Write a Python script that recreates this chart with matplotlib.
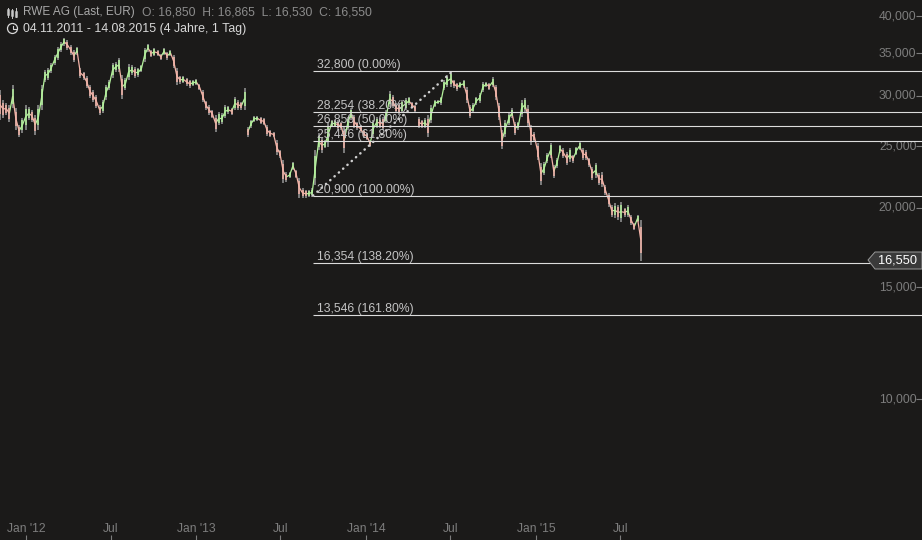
import numpy as np
import pandas as pd
import matplotlib
matplotlib.use('Agg')
import matplotlib.pyplot as plt
import matplotlib.dates as mdates
from matplotlib.collections import LineCollection
from matplotlib.lines import Line2D
from matplotlib.patches import Circle, Polygon

plt.rcParams['font.family'] = ['Liberation Sans', 'DejaVu Sans']

# price ranges, about one bar per week
high = [30640, 29550, 29230, 29020, 31200, 28710, 26990, 27680, 29020, 28810,
        28500, 27990, 29020, 31200, 32940, 33180, 33790, 34780, 35800, 36460,
        36990, 36720, 36060, 35420, 35800, 33180, 32700, 32230, 31200, 30640,
        30090, 29020, 29550, 31200, 31770, 33790, 33910, 34400, 32350, 32000,
        33660, 33540, 33300, 33180, 33540, 35670, 36190, 35420, 35670, 35420,
        34910, 35670, 35160, 35420, 34780, 33180, 32230, 32230, 32000, 31770,
        31770, 31880, 31310, 30640, 29440, 29020, 28500, 27990, 28290, 28190,
        29020, 28910, 28710, 29870, 29550, 29340, 30860, 26800, 27480, 27890,
        27890, 27780, 27680, 26990, 26510, 26310, 25560, 24650, 23780, 22760,
        22760, 23600, 22930, 22270, 21480, 21330, 21330, 21480, 24650, 26220,
        25750, 25560, 27290, 27480, 27480, 27480, 27290, 26800, 27780, 28710,
        27990, 27290, 26990, 26510, 26220, 25560, 27480, 27780, 27680, 27780,
        28500, 30530, 30090, 29230, 29230, 29550, 29760, 29870, 29340, 29020,
        27780, 27480, 27680, 27990, 29020, 29550, 29550, 29870, 31770, 32350,
        32820, 31770, 31430, 31540, 31770, 30970, 29020, 29230, 29870, 30310,
        31540, 31540, 31430, 32120, 31200, 29230, 26510, 27480, 28190, 28710,
        27290, 27290, 29550, 29760, 29020, 26990, 26310, 25290, 23520, 23600,
        24390, 25290, 23350, 23950, 25100, 24830, 24480, 24830, 24210, 24920,
        25380, 24830, 24650, 23950, 23180, 23520, 22680, 22760, 21720, 21100,
        20200, 20340, 20200, 20420, 19980, 20200, 19480, 18920, 19480, 19130]
low = [27480, 27680, 27990, 27290, 28710, 26510, 25840, 26220, 26510, 27480,
       27290, 26030, 26510, 28500, 31540, 31770, 32580, 33540, 34160, 35160,
       35930, 35420, 34780, 33910, 34780, 32000, 31770, 30860, 29760, 29340,
       28710, 27990, 28190, 29550, 30640, 32000, 32700, 32700, 29660, 30640,
       31770, 32350, 32000, 32120, 32700, 33910, 35160, 34530, 34650, 34650,
       34160, 34780, 34160, 34650, 33180, 31200, 31310, 31430, 31090, 30860,
       31090, 31200, 30640, 29340, 28500, 27990, 27680, 26310, 26990, 27090,
       27680, 28090, 27990, 28500, 28500, 28500, 28500, 25840, 26700, 27290,
       27380, 27090, 26990, 25940, 25840, 25840, 24210, 23950, 21870, 21950,
       22270, 22930, 22270, 20720, 20720, 20720, 20790, 20790, 21720, 24650,
       24390, 24830, 24920, 26800, 26800, 26510, 26510, 24390, 26510, 27480,
       26700, 26510, 26220, 25750, 25560, 24920, 25840, 26700, 26700, 26510,
       27190, 28810, 28710, 28190, 27990, 28190, 28500, 29020, 28710, 28290,
       26700, 26700, 26700, 25840, 27190, 28810, 29120, 29020, 30640, 30970,
       30970, 30860, 30530, 30860, 30860, 29230, 27680, 28190, 29020, 29230,
       30420, 30970, 30640, 30970, 29550, 27480, 24740, 25840, 26990, 27680,
       26030, 26510, 27780, 28290, 26800, 25100, 25380, 23780, 21720, 22520,
       23520, 23950, 22270, 23100, 24390, 23950, 23350, 23600, 23520, 24210,
       24650, 23780, 23780, 23180, 22110, 22270, 21720, 21560, 20940, 20050,
       19340, 19270, 19130, 18990, 19340, 19340, 18780, 18440, 18990, 16500]
price_gaps = [76, 129]  # no connection after these bars

first_bar = '2011-11-06'
last_bar = '2015-08-14'
last_price = 16550

fib_levels = [32800, 28254, 26850, 25446, 20900, 16354, 13546]
fib_pcts = ['0.00%', '38.20%', '50.00%', '61.80%', '100.00%', '138.20%', '161.80%']
fib_start = '2013-09-09'
trend_dates = ['2013-09-09', '2014-07-06']
trend_prices = [20900, 32800]

y_ticks = [40000, 35000, 30000, 25000, 20000, 15000, 10000]
x_ticks = ['2012-01-02', '2012-07-02', '2013-01-01', '2013-07-01',
           '2014-01-01', '2014-07-01', '2015-01-01', '2015-07-01']
x_labels = ["Jan '12", 'Jul', "Jan '13", 'Jul', "Jan '14", 'Jul', "Jan '15", 'Jul']

BG = '#1b1a19'
GREEN = '#b4f29c'
PINK = '#f4b4a8'
GREY = '#7d7d7d'
W, H = 922, 540

fig = plt.figure(figsize=(W / 100, H / 100), dpi=100, facecolor=BG)
ax = fig.add_axes([0, 0, 1, 1], facecolor=BG)
ax.set_yscale('log')
ax.set_ylim(6002, 42430)
x0 = mdates.date2num(pd.Timestamp('2012-01-02')) - 26.3 / 0.4655
ax.set_xlim(x0, x0 + W / 0.4655)
for s in ax.spines.values():
    s.set_visible(False)

high = np.array(high, float)
low = np.array(low, float)
dates = mdates.date2num(pd.date_range(first_bar, last_bar, periods=len(high)))
mid = (high + low) / 2

# price: grey wicks, coloured path between the bars
ax.vlines(dates, low, high, color=GREY, lw=1.4, zorder=2)
segs, cols = [], []
for i in range(1, len(mid)):
    if i - 1 in price_gaps:
        continue
    segs.append([(dates[i - 1], mid[i - 1]), (dates[i], mid[i])])
    cols.append(GREEN if mid[i] >= mid[i - 1] else PINK)
ax.add_collection(LineCollection(segs, colors=cols, linewidths=0.9, zorder=3))
bar_cols = [GREEN if i and mid[i] >= mid[i - 1] else PINK for i in range(len(mid))]
ax.vlines(dates, low + (mid - low) * 0.35, high - (high - mid) * 0.35,
          colors=bar_cols, lw=1.1, zorder=3)

# fibonacci levels
start = mdates.date2num(pd.Timestamp(fib_start))
for level, pct in zip(fib_levels, fib_pcts):
    ax.hlines(level, start, ax.get_xlim()[1], color='#dcdcdc', lw=0.8, zorder=4)
    ax.annotate(f'{level:,} ({pct})', xy=(start, level), xytext=(3, 0),
                textcoords='offset points', color='#c4c4c4', fontsize=8.7,
                va='bottom', ha='left', zorder=5)
ax.plot(mdates.date2num(pd.to_datetime(trend_dates)), trend_prices, color='#cfcfcf',
        lw=1.8, ls=(0, (0.1, 2.2)), dash_capstyle='round', zorder=4)

# axes sit inside the picture
ax.yaxis.tick_right()
ax.set_yticks(y_ticks)
ax.set_yticklabels([f'{v:,}' for v in y_ticks])
ax.minorticks_off()
ax.tick_params(axis='y', direction='in', length=4, width=0.8, color=GREY, pad=-4,
               labelcolor=GREY, labelsize=8.7)
for t in ax.get_yticklabels():
    t.set_ha('right')
    t.set_va('center')
ax.set_xticks(mdates.date2num(pd.to_datetime(x_ticks)))
ax.set_xticklabels(x_labels)
ax.tick_params(axis='x', direction='in', length=3.5, width=0.8, color=GREY, pad=-12.5,
               labelcolor=GREY, labelsize=8.7)

# last price badge
def fx(x):
    return x / W

def fy(y):
    return 1 - y / H

badge = [(868, 260), (875, 252), (922, 252), (922, 269), (875, 269)]
fig.add_artist(Polygon([(fx(a), fy(b)) for a, b in badge], closed=True,
                       transform=fig.transFigure, facecolor='#3a3a3a',
                       edgecolor='#9a9a9a', lw=0.7, zorder=6))
fig.text(fx(917), fy(260.5), f'{last_price:,}', color='white', fontsize=9.2,
         ha='right', va='center', zorder=7)

# header
fig.text(fx(23), fy(12.5), 'RWE AG (Last, EUR)', color='#a8a8a8', fontsize=8.5, va='center')
fig.text(fx(142), fy(12.5), 'O: 16,850  H: 16,865  L: 16,530  C: 16,550', color='#8c8c8c',
         fontsize=8.7, va='center')
fig.text(fx(23), fy(29), '04.11.2011 - 14.08.2015 (4 Jahre, 1 Tag)', color='#d8d8d8',
         fontsize=8.9, va='center')

# small header icons
for xp, y1, y2, b1, b2 in [(7.5, 8, 17, 10, 14), (11.5, 9, 18, 11, 15), (15.5, 8, 17, 12, 16)]:
    fig.add_artist(Line2D([fx(xp)] * 2, [fy(y1), fy(y2)], color='#c8c8c8', lw=0.7))
    fig.add_artist(Line2D([fx(xp)] * 2, [fy(b1), fy(b2)], color='#c8c8c8', lw=1.8))
clock_x, clock_y = 12.5, 28.5
fig.add_artist(Circle((clock_x, H - clock_y), 5, transform=None, fill=False,
                      edgecolor='#d8d8d8', lw=0.9))
fig.add_artist(Line2D([fx(clock_x), fx(clock_x), fx(clock_x + 3)],
                      [fy(clock_y - 3), fy(clock_y), fy(clock_y)], color='#d8d8d8', lw=0.8))

fig.savefig('out.png', dpi=100, facecolor=BG)
